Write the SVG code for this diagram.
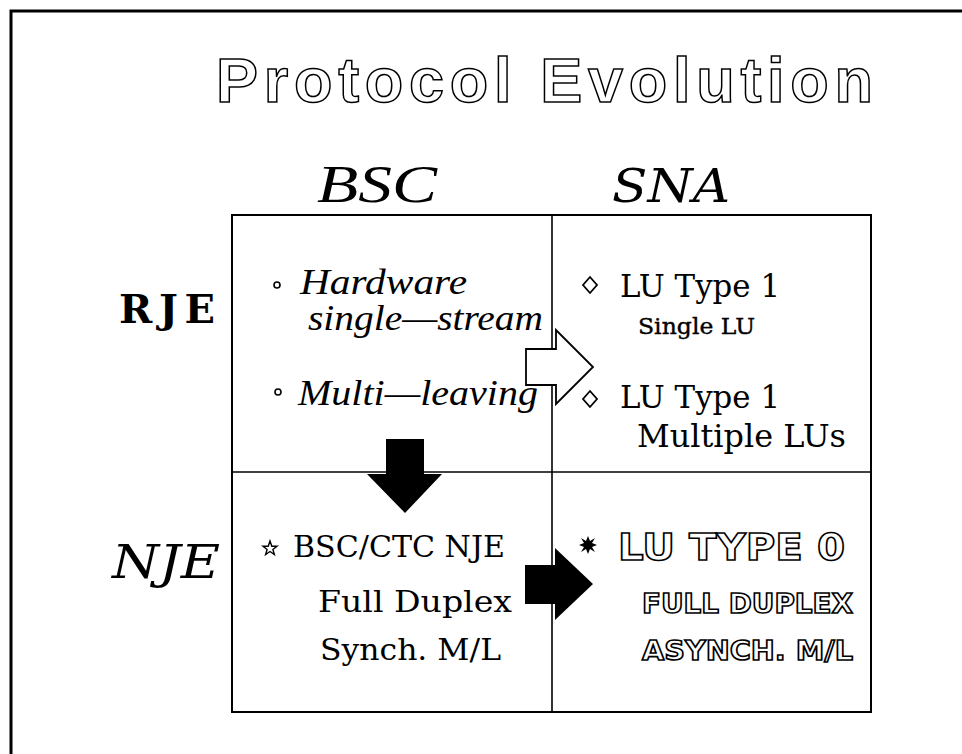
<svg xmlns="http://www.w3.org/2000/svg" width="962" height="754" viewBox="0 0 962 754">
<style>
.title{font-family:"Liberation Sans",Arial,sans-serif;font-weight:bold;font-size:63px;fill:#fff;stroke:#000;stroke-width:1.5px}
.hdr{font-family:"DejaVu Serif",serif;font-style:italic;font-size:47px;fill:#000}
.script{font-family:"Liberation Serif",serif;font-style:italic;fill:#000}
.black{font-family:"DejaVu Serif",serif;font-weight:bold;font-size:40px;fill:#000}
.serif{font-family:"DejaVu Serif",serif;fill:#000}
.deco{font-family:"DejaVu Sans",sans-serif;font-weight:bold;fill:#fff;stroke:#000;stroke-width:1.6px}
.line{stroke:#000;fill:none}
</style>
<g id="page">
<path class="line" d="M11,754 V11 H962" stroke-width="3"/>
</g>
<g id="title"><text class="title" x="216" y="102" textLength="657" lengthAdjust="spacing">Protocol Evolution</text></g>
<g id="grid">
<rect class="line" x="232" y="215" width="639" height="497" stroke-width="2"/>
<line class="line" x1="552" y1="215" x2="552" y2="712" stroke-width="1.6"/>
<line class="line" x1="232" y1="472" x2="871" y2="472" stroke-width="1.6"/>
</g>
<g id="col-bsc"><text class="script" x="317" y="202" font-size="52" textLength="120" lengthAdjust="spacingAndGlyphs">BSC</text></g>
<g id="col-sna"><text class="hdr" x="612" y="202" textLength="118" lengthAdjust="spacingAndGlyphs">SNA</text></g>
<g id="row-rje"><text class="black" x="119" y="323" textLength="96" lengthAdjust="spacing">RJE</text></g>
<g id="row-nje"><text class="hdr" x="112" y="578" font-size="48" textLength="108" lengthAdjust="spacingAndGlyphs">NJE</text></g>
<g id="cell-rje-bsc">
<circle cx="277" cy="285" r="3" fill="none" stroke="#000" stroke-width="1.6"/>
<text class="script" x="300" y="294" font-size="35" textLength="167" lengthAdjust="spacingAndGlyphs">Hardware</text>
<text class="script" x="308" y="330" font-size="35" textLength="235" lengthAdjust="spacingAndGlyphs">single—stream</text>
<circle cx="278" cy="392" r="3" fill="none" stroke="#000" stroke-width="1.6"/>
<text class="script" x="298" y="405" font-size="36" textLength="240" lengthAdjust="spacingAndGlyphs">Multi—leaving</text>
</g>
<g id="cell-rje-sna">
<polygon points="590,277 597,285 590,293 583,285" fill="#fff" stroke="#000" stroke-width="1.8"/>
<text class="serif" x="620" y="297" font-size="31" textLength="160" lengthAdjust="spacingAndGlyphs">LU Type 1</text>
<text class="serif" x="638" y="334" font-size="23" stroke="#000" stroke-width="0.4" textLength="117" lengthAdjust="spacingAndGlyphs">Single LU</text>
<polygon points="590,391 597,399 590,407 583,399" fill="#fff" stroke="#000" stroke-width="1.8"/>
<text class="serif" x="620" y="408" font-size="31" textLength="160" lengthAdjust="spacingAndGlyphs">LU Type 1</text>
<text class="serif" x="637" y="447" font-size="31" textLength="209" lengthAdjust="spacingAndGlyphs">Multiple LUs</text>
</g>
<g id="cell-nje-bsc">
<polygon points="270,541 271.8,546.2 277,546.2 272.9,549.4 274.4,554.5 270,551.5 265.6,554.5 267.1,549.4 263,546.2 268.2,546.2" fill="#fff" stroke="#000" stroke-width="1.4"/>
<text class="serif" x="293" y="557" font-size="30" textLength="212" lengthAdjust="spacingAndGlyphs">BSC/CTC NJE</text>
<text class="serif" x="318" y="612" font-size="30" textLength="194" lengthAdjust="spacingAndGlyphs">Full Duplex</text>
<text class="serif" x="320" y="660" font-size="30" textLength="181" lengthAdjust="spacingAndGlyphs">Synch. M/L</text>
</g>
<g id="cell-nje-sna">
<polygon points="588,536 590,541 595,538 592,543 597,545 592,547 595,552 590,549 588,554 586,549 581,552 584,547 579,545 584,543 581,538 586,541" fill="#000"/>
<text class="deco" x="618" y="560" font-size="38" textLength="227" lengthAdjust="spacingAndGlyphs">LU TYPE 0</text>
<text class="deco" x="642" y="613" font-size="27" textLength="211" lengthAdjust="spacingAndGlyphs">FULL DUPLEX</text>
<text class="deco" x="642" y="660" font-size="27" textLength="211" lengthAdjust="spacingAndGlyphs">ASYNCH. M/L</text>
</g>
<g id="connectors">
<polygon id="arrow-rje" points="526,349 556,349 556,330 593,367 556,404 556,385 526,385" fill="#fff" stroke="#000" stroke-width="1.8"/>
<polygon id="arrow-bsc" points="386,439 424,439 424,474 442,474 405,513 367,474 386,474" fill="#000"/>
<polygon id="arrow-nje" points="525,565 555,565 555,548 593,584 555,620 555,604 525,604" fill="#000"/>
</g>
</svg>
